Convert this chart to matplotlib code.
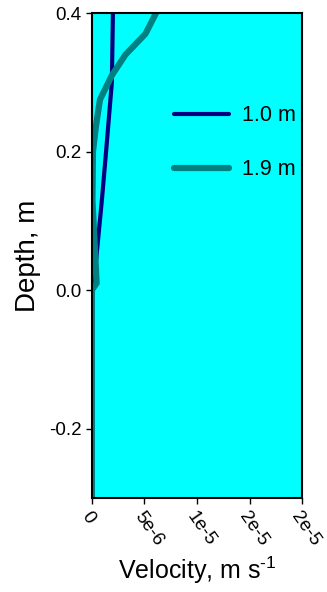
import numpy as np
import matplotlib
matplotlib.use("Agg")
import matplotlib.pyplot as plt
from matplotlib.ticker import FixedLocator, FixedFormatter

plt.rcParams['font.family'] = ['Liberation Sans', 'DejaVu Sans']
plt.rcParams['mathtext.fontset'] = 'custom'
plt.rcParams['mathtext.rm'] = 'Liberation Sans'

# velocity profiles (m/s) against depth (m)
depth_10 = [0.40, 0.30, 0.20, 0.13, 0.04, 0.00, -0.30]
vel_10 = [2.0e-6, 1.9e-6, 1.35e-6, 0.95e-6, 0.38e-6, 0.0, 0.0]

depth_19 = [0.40, 0.37, 0.34, 0.31, 0.275, 0.236, 0.20, 0.13, 0.01, 0.00, -0.30]
vel_19 = [6.1e-6, 5.1e-6, 3.2e-6, 1.9e-6, 0.77e-6, 0.38e-6, 0.1e-6, 0.05e-6, 0.45e-6, 0.0, 0.0]

xticks = [0, 5e-6, 1e-5, 1.5e-5, 2e-5]
xlabels = ["0", "5e-6", "1e-5", "2e-5", "2e-5"]
yticks = [-0.2, 0.0, 0.2, 0.4]

fig = plt.figure(figsize=(3.27, 5.92), dpi=100)
ax = fig.add_axes([0.281, 0.159, 0.643, 0.819])
ax.set_facecolor("#00FFFF")

ax.plot(vel_10, depth_10, color="#000080", lw=3, solid_capstyle="round", label="1.0 m")
ax.plot(vel_19, depth_19, color="#008080", lw=4.5, solid_capstyle="round", label="1.9 m")

ax.set_xlim(0, 2e-5)
ax.set_ylim(-0.3, 0.4)
ax.xaxis.set_major_locator(FixedLocator(xticks))
ax.xaxis.set_major_formatter(FixedFormatter(xlabels))
ax.set_yticks(yticks)
ax.set_yticklabels(["%.1f" % v for v in yticks])
ax.tick_params(axis="both", direction="out", length=4, width=1, labelsize=13.5)
plt.setp(ax.get_xticklabels(), rotation=-55, ha="left", va="top", rotation_mode="anchor")
for s in ax.spines.values():
    s.set_linewidth(1.5)

ax.set_xlabel(r"Velocity, m s$^{\text{-1}}$", fontsize=18, labelpad=4)
ax.set_ylabel("Depth, m", fontsize=20, labelpad=6)

ax.legend(loc="upper left", bbox_to_anchor=(0.39, 0.81), frameon=False,
          fontsize=15.5, handlelength=2.55, labelspacing=1.53, handletextpad=0.6,
          borderaxespad=0, borderpad=0)

fig.savefig("out.png", dpi=100)
